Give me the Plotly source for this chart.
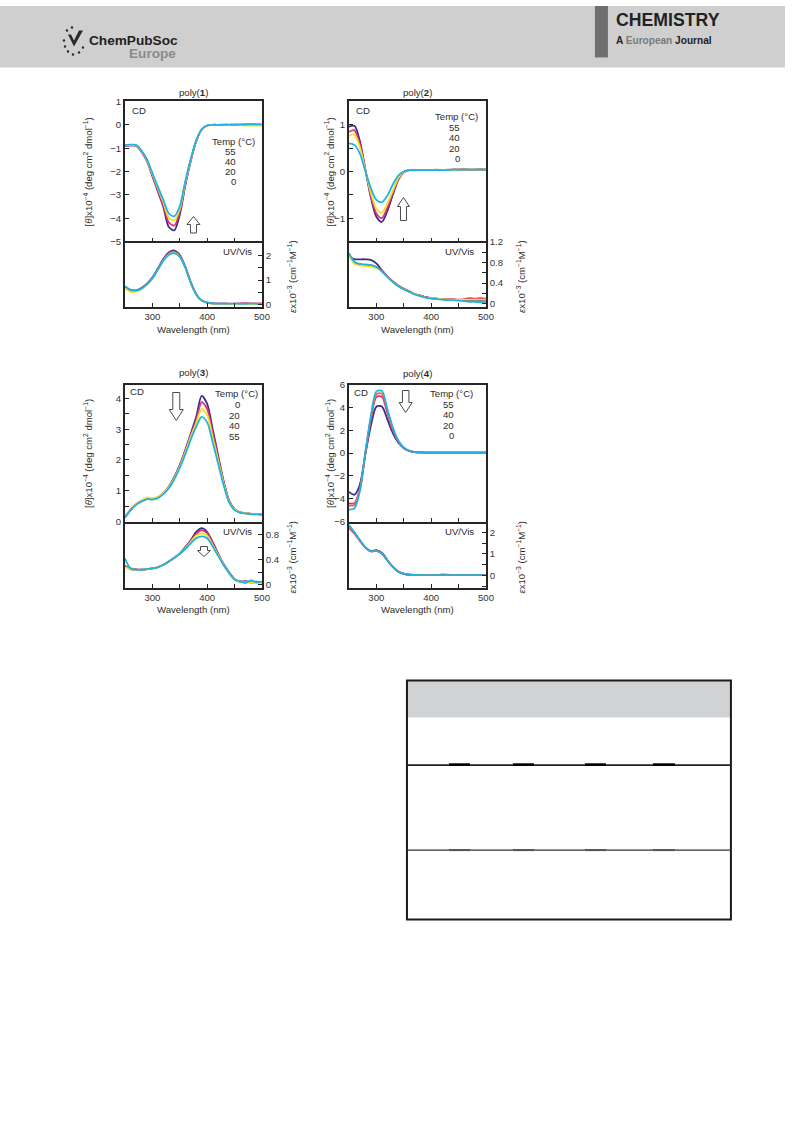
import plotly.graph_objects as go

W, H = 793, 1121
FONT = "Liberation Sans, Arial, sans-serif"

# ---------------- data ----------------
wavelength = [250, 260, 270, 280, 290, 300, 310, 320, 330, 340, 350, 360, 370,
              380, 390, 400, 410, 420, 430, 440, 450, 460, 470, 480, 490, 500]
temperatures = ["0", "20", "40", "55"]

# poly(1)
p1_cd_0C = [-0.90, -0.88, -0.90, -1.15, -1.55, -2.20, -2.85, -3.52, -4.38, -4.52, -3.85, -2.60, -1.55,
            -0.70, -0.20, -0.03, 0.00, 0.00, 0.00, 0.00, 0.01, 0.00, 0.00, 0.01, 0.00, 0.00]
p1_cd_20C = [-0.90, -0.88, -0.89, -1.14, -1.53, -2.17, -2.80, -3.44, -4.18, -4.32, -3.72, -2.55, -1.52,
             -0.70, -0.20, -0.03, 0.00, 0.00, 0.01, 0.00, 0.00, 0.01, 0.02, 0.01, 0.02, 0.01]
p1_cd_40C = [-0.88, -0.87, -0.88, -1.12, -1.50, -2.12, -2.72, -3.32, -3.98, -4.10, -3.60, -2.48, -1.50,
             -0.68, -0.20, -0.03, 0.00, 0.00, 0.00, 0.00, 0.00, -0.01, -0.03, -0.03, -0.03, -0.02]
p1_cd_55C = [-0.86, -0.85, -0.86, -1.10, -1.47, -2.07, -2.65, -3.22, -3.80, -3.92, -3.48, -2.42, -1.47,
             -0.67, -0.20, -0.03, 0.00, 0.00, 0.00, 0.01, 0.00, 0.01, 0.01, 0.02, 0.02, 0.01]
p1_uv_0C = [0.72, 0.60, 0.58, 0.67, 0.85, 1.10, 1.47, 1.86, 2.12, 2.20, 2.02, 1.55, 0.92,
            0.42, 0.16, 0.08, 0.05, 0.04, 0.04, 0.03, 0.03, 0.03, 0.03, 0.03, 0.03, 0.03]
p1_uv_20C = [0.70, 0.56, 0.56, 0.65, 0.83, 1.08, 1.44, 1.83, 2.08, 2.16, 1.98, 1.52, 0.90,
             0.41, 0.16, 0.08, 0.05, 0.04, 0.04, 0.04, 0.04, 0.05, 0.06, 0.05, 0.05, 0.05]
p1_uv_40C = [0.66, 0.52, 0.53, 0.62, 0.80, 1.05, 1.41, 1.79, 2.04, 2.12, 1.95, 1.50, 0.88,
             0.40, 0.15, 0.07, 0.04, 0.03, 0.03, 0.02, 0.02, 0.02, 0.02, 0.02, 0.02, 0.02]
p1_uv_55C = [0.75, 0.60, 0.57, 0.65, 0.82, 1.06, 1.42, 1.79, 2.02, 2.10, 1.94, 1.50, 0.89,
             0.41, 0.16, 0.08, 0.05, 0.04, 0.04, 0.03, 0.04, 0.03, 0.03, 0.04, 0.03, 0.03]

# poly(2)
p2_cd_0C = [0.96, 0.98, 0.65, 0.04, -0.56, -0.97, -1.08, -0.85, -0.50, -0.18, -0.02, 0.03, 0.03,
            0.03, 0.03, 0.03, 0.03, 0.03, 0.03, 0.04, 0.04, 0.04, 0.04, 0.04, 0.04, 0.04]
p2_cd_20C = [0.85, 0.88, 0.58, 0.03, -0.52, -0.90, -1.00, -0.78, -0.46, -0.16, -0.01, 0.03, 0.03,
             0.03, 0.03, 0.03, 0.04, 0.03, 0.04, 0.04, 0.04, 0.05, 0.04, 0.04, 0.05, 0.04]
p2_cd_40C = [0.76, 0.79, 0.52, 0.02, -0.46, -0.80, -0.88, -0.69, -0.41, -0.14, -0.01, 0.03, 0.03,
             0.03, 0.03, 0.03, 0.03, 0.03, 0.04, 0.03, 0.04, 0.04, 0.04, 0.04, 0.04, 0.04]
p2_cd_55C = [0.60, 0.57, 0.38, 0.00, -0.36, -0.61, -0.66, -0.52, -0.28, -0.09, 0.00, 0.03, 0.03,
             0.03, 0.03, 0.03, 0.03, 0.03, 0.03, 0.04, 0.04, 0.04, 0.04, 0.04, 0.04, 0.04]
p2_uv_0C = [0.92, 0.86, 0.86, 0.86, 0.85, 0.78, 0.65, 0.53, 0.43, 0.35, 0.29, 0.24, 0.19,
            0.16, 0.13, 0.11, 0.10, 0.09, 0.08, 0.08, 0.07, 0.07, 0.07, 0.06, 0.06, 0.06]
p2_uv_20C = [0.96, 0.80, 0.76, 0.75, 0.74, 0.71, 0.64, 0.53, 0.43, 0.35, 0.29, 0.24, 0.19,
             0.16, 0.13, 0.11, 0.10, 0.09, 0.09, 0.09, 0.08, 0.09, 0.11, 0.10, 0.11, 0.10]
p2_uv_40C = [0.93, 0.77, 0.74, 0.73, 0.72, 0.69, 0.62, 0.52, 0.42, 0.34, 0.28, 0.23, 0.19,
             0.15, 0.12, 0.11, 0.10, 0.09, 0.08, 0.08, 0.08, 0.08, 0.08, 0.08, 0.08, 0.08]
p2_uv_55C = [0.98, 0.81, 0.77, 0.76, 0.75, 0.71, 0.63, 0.52, 0.42, 0.34, 0.28, 0.23, 0.18,
             0.15, 0.12, 0.10, 0.09, 0.08, 0.07, 0.07, 0.06, 0.05, 0.04, 0.04, 0.03, 0.03]

# poly(3)
p3_cd_0C = [0.14, 0.38, 0.55, 0.66, 0.74, 0.73, 0.78, 0.92, 1.13, 1.45, 1.84, 2.32, 2.85,
            3.40, 4.08, 3.82, 3.00, 2.15, 1.32, 0.68, 0.40, 0.30, 0.27, 0.25, 0.24, 0.23]
p3_cd_20C = [0.14, 0.38, 0.56, 0.67, 0.75, 0.74, 0.79, 0.92, 1.12, 1.43, 1.82, 2.29, 2.80,
             3.30, 3.88, 3.65, 2.88, 2.08, 1.28, 0.67, 0.40, 0.30, 0.27, 0.25, 0.24, 0.23]
p3_cd_40C = [0.13, 0.37, 0.56, 0.68, 0.78, 0.76, 0.80, 0.92, 1.11, 1.41, 1.79, 2.25, 2.75,
             3.20, 3.66, 3.46, 2.74, 1.99, 1.24, 0.65, 0.39, 0.30, 0.27, 0.25, 0.24, 0.23]
p3_cd_55C = [0.12, 0.36, 0.54, 0.65, 0.73, 0.71, 0.76, 0.89, 1.08, 1.37, 1.74, 2.18, 2.66,
             3.08, 3.40, 3.22, 2.58, 1.88, 1.18, 0.62, 0.37, 0.29, 0.26, 0.24, 0.23, 0.22]
p3_uv_0C = [0.30, 0.25, 0.24, 0.24, 0.25, 0.26, 0.28, 0.32, 0.37, 0.43, 0.50, 0.60, 0.71,
            0.84, 0.90, 0.84, 0.68, 0.50, 0.33, 0.20, 0.09, 0.05, 0.06, 0.04, 0.05, 0.04]
p3_uv_20C = [0.30, 0.26, 0.25, 0.24, 0.25, 0.26, 0.28, 0.32, 0.37, 0.43, 0.50, 0.59, 0.70,
             0.81, 0.87, 0.82, 0.66, 0.49, 0.32, 0.19, 0.09, 0.05, 0.05, 0.04, 0.04, 0.04]
p3_uv_40C = [0.28, 0.25, 0.24, 0.24, 0.25, 0.26, 0.28, 0.32, 0.37, 0.43, 0.50, 0.58, 0.68,
             0.78, 0.82, 0.78, 0.63, 0.48, 0.32, 0.19, 0.08, 0.05, 0.04, 0.04, 0.04, 0.03]
p3_uv_55C = [0.42, 0.26, 0.24, 0.24, 0.25, 0.26, 0.28, 0.32, 0.37, 0.43, 0.49, 0.57, 0.66,
             0.74, 0.77, 0.74, 0.61, 0.46, 0.31, 0.19, 0.08, 0.06, 0.03, 0.07, 0.04, 0.05]

# poly(4)
p4_cd_0C = [-3.40, -3.65, -2.75, -0.10, 2.40, 4.05, 4.08, 2.95, 1.75, 0.92, 0.42, 0.18, 0.08,
            0.05, 0.04, 0.04, 0.04, 0.04, 0.04, 0.04, 0.04, 0.04, 0.04, 0.04, 0.04, 0.04]
p4_cd_20C = [-4.40, -4.40, -3.10, 0.00, 2.95, 4.90, 4.93, 3.50, 2.05, 1.02, 0.45, 0.19, 0.08,
             0.05, 0.04, 0.04, 0.04, 0.04, 0.04, 0.04, 0.04, 0.04, 0.04, 0.04, 0.04, 0.04]
p4_cd_40C = [-4.60, -4.55, -3.20, 0.05, 3.10, 5.15, 5.20, 3.70, 2.15, 1.06, 0.47, 0.20, 0.08,
             0.05, 0.04, 0.04, 0.04, 0.04, 0.04, 0.04, 0.04, 0.04, 0.04, 0.04, 0.04, 0.04]
p4_cd_55C = [-4.95, -4.85, -3.30, 0.10, 3.25, 5.40, 5.45, 3.85, 2.25, 1.10, 0.48, 0.20, 0.09,
             0.05, 0.04, 0.04, 0.04, 0.04, 0.04, 0.04, 0.04, 0.04, 0.04, 0.04, 0.04, 0.04]
p4_uv_0C = [2.30, 1.97, 1.62, 1.30, 1.13, 1.17, 1.05, 0.72, 0.41, 0.19, 0.09, 0.04, 0.03,
            0.02, 0.02, 0.02, 0.02, 0.02, 0.02, 0.02, 0.02, 0.02, 0.02, 0.02, 0.02, 0.02]
p4_uv_20C = [2.20, 1.93, 1.60, 1.28, 1.12, 1.14, 1.02, 0.70, 0.40, 0.18, 0.08, 0.04, 0.03,
             0.02, 0.02, 0.02, 0.03, 0.05, 0.04, 0.03, 0.02, 0.02, 0.03, 0.02, 0.02, 0.02]
p4_uv_40C = [2.25, 1.95, 1.61, 1.29, 1.12, 1.14, 1.02, 0.70, 0.40, 0.18, 0.08, 0.04, 0.03,
             0.02, 0.02, 0.02, 0.02, 0.02, 0.02, 0.02, 0.02, 0.02, 0.02, 0.02, 0.02, 0.02]
p4_uv_55C = [2.33, 1.99, 1.63, 1.30, 1.12, 1.14, 1.02, 0.70, 0.40, 0.18, 0.08, 0.04, 0.03,
             0.02, 0.02, 0.02, 0.02, 0.03, 0.02, 0.02, 0.03, 0.02, 0.02, 0.03, 0.02, 0.02]

# tick values / labels
x_tick_vals = [300, 350, 400, 450, 500]
x_tick_text = ["300", "", "400", "", "500"]
p1_cd_ticks = [-5, -4, -3, -2, -1, 0, 1]
p1_cd_text = ["\u22125", "\u22124", "\u22123", "\u22122", "\u22121", "0", "1"]
p2_cd_ticks = [-1.5, -1, -0.5, 0, 0.5, 1, 1.5]
p2_cd_text = ["", "\u22121", "", "0", "", "1", ""]
p3_cd_ticks = [0, 0.5, 1, 1.5, 2, 2.5, 3, 3.5, 4]
p3_cd_text = ["0", "", "1", "", "2", "", "3", "", "4"]
p4_cd_ticks = [-6, -4, -2, 0, 2, 4, 6]
p4_cd_text = ["\u22126", "\u22124", "\u22122", "0", "2", "4", "6"]
p1_uv_ticks = [0, 0.5, 1, 1.5, 2]
p1_uv_text = ["0", "", "1", "", "2"]
p2_uv_ticks = [0, 0.2, 0.4, 0.6, 0.8, 1.0, 1.2]
p2_uv_text = ["0", "", "0.4", "", "0.8", "", "1.2"]
p3_uv_ticks = [0, 0.2, 0.4, 0.6, 0.8]
p3_uv_text = ["0", "", "0.4", "", "0.8"]
p4_uv_ticks = [-0.5, 0, 0.5, 1, 1.5, 2]
p4_uv_text = ["", "0", "", "1", "", "2"]

COL_DARK, COL_MAG, COL_YEL, COL_CYAN, COL_ORANGE = "#3b2d86", "#e0307c", "#f3e21e", "#1fb3e5", "#f06e2c"

# The photographed page is shown at a slight reduction (793/801) and centred
# vertically; map target-pixel positions to page positions accordingly.
S = 793 / 801
OY = 5.55


def xp(px):
    return (px / S) / W


def yp(py):
    return 1 - ((py - OY) / S) / H


def fs(size):
    return round(size / S, 2)


def ax(k):
    return "" if k == 1 else str(k)


panels = [
    dict(title="poly(<b>1</b>)", x0=125, x1=262, top=101, split=241, bottom=306,
         cd=[p1_cd_0C, p1_cd_20C, p1_cd_40C, p1_cd_55C], uv=[p1_uv_0C, p1_uv_20C, p1_uv_40C, p1_uv_55C],
         colors=[COL_DARK, COL_MAG, COL_YEL, COL_CYAN],
         cd_range=[-5, 1], uv_range=[-0.08, 2.57],
         cd_ticks=(p1_cd_ticks, p1_cd_text), uv_ticks=(p1_uv_ticks, p1_uv_text),
         title_y=92, xtitle_y=329, ytitle_x=88, uvtitle_x=292,
         cd_lab=(130, 110), uv_lab=(254, 251),
         temp_center=234, temp_right=238, temp_y=[141, 151, 161, 171, 181],
         temp_order=["55", "40", "20", "0"]),
    dict(title="poly(<b>2</b>)", x0=349, x1=486, top=101, split=241, bottom=306,
         cd=[p2_cd_0C, p2_cd_20C, p2_cd_40C, p2_cd_55C], uv=[p2_uv_0C, p2_uv_20C, p2_uv_40C, p2_uv_55C],
         colors=[COL_DARK, COL_MAG, COL_YEL, COL_CYAN],
         cd_range=[-1.5, 1.5], uv_range=[-0.052, 1.204],
         cd_ticks=(p2_cd_ticks, p2_cd_text), uv_ticks=(p2_uv_ticks, p2_uv_text),
         title_y=92, xtitle_y=329, ytitle_x=330, uvtitle_x=521,
         cd_lab=(354, 110), uv_lab=(476, 251),
         temp_center=457, temp_right=462, temp_y=[116, 127, 137.5, 148, 158.5],
         temp_order=["55", "40", "20", "0"]),
    dict(title="poly(<b>3</b>)", x0=125, x1=262, top=384, split=521, bottom=587,
         cd=[p3_cd_0C, p3_cd_20C, p3_cd_40C, p3_cd_55C], uv=[p3_uv_0C, p3_uv_20C, p3_uv_40C, p3_uv_55C],
         colors=[COL_DARK, COL_MAG, COL_YEL, COL_CYAN],
         cd_range=[0, 4.45], uv_range=[-0.043, 1.006],
         cd_ticks=(p3_cd_ticks, p3_cd_text), uv_ticks=(p3_uv_ticks, p3_uv_text),
         title_y=372, xtitle_y=609, ytitle_x=88, uvtitle_x=292,
         cd_lab=(128, 391), uv_lab=(254, 531),
         temp_center=236.5, temp_right=242, temp_y=[393, 404, 414.5, 425, 435.5],
         temp_order=["0", "20", "40", "55"]),
    dict(title="poly(<b>4</b>)", x0=349, x1=486, top=384, split=521, bottom=587,
         cd=[p4_cd_0C, p4_cd_20C, p4_cd_40C, p4_cd_55C], uv=[p4_uv_0C, p4_uv_20C, p4_uv_40C, p4_uv_55C],
         colors=[COL_DARK, COL_MAG, COL_ORANGE, COL_CYAN],
         cd_range=[-6, 6], uv_range=[-0.55, 2.49],
         cd_ticks=(p4_cd_ticks, p4_cd_text), uv_ticks=(p4_uv_ticks, p4_uv_text),
         title_y=373, xtitle_y=609, ytitle_x=330, uvtitle_x=521,
         cd_lab=(352, 392), uv_lab=(476, 531),
         temp_center=451.5, temp_right=456, temp_y=[393, 404, 414, 424.5, 434.5],
         temp_order=["55", "40", "20", "0"]),
]

fig = go.Figure()
layout = dict(width=W, height=H, margin=dict(l=0, r=0, t=0, b=0),
              paper_bgcolor="white", plot_bgcolor="white", showlegend=False,
              font=dict(family=FONT, size=fs(9), color="#333"))
annotations = []
shapes = []

LINE = "#262626"
LW = 1.8
tickfont = dict(family=FONT, size=fs(9.5), color="#333")


def ann(text, x, y, size=9, xanchor="center", yanchor="middle", color="#2b2b2b", angle=0, family=FONT):
    annotations.append(dict(text=text, x=xp(x), y=yp(y), xref="paper", yref="paper", showarrow=False,
                            xanchor=xanchor, yanchor=yanchor, textangle=angle,
                            font=dict(size=fs(size), color=color, family=family)))


for i, p in enumerate(panels):
    kc, ku = 2 * i + 1, 2 * i + 2
    common_x = dict(domain=[xp(p["x0"]), xp(p["x1"])], range=[250, 500], showgrid=False, zeroline=False,
                    showline=True, linecolor=LINE, linewidth=LW,
                    ticks="inside", ticklen=4, tickwidth=1.2, tickcolor=LINE,
                    tickvals=x_tick_vals, ticktext=x_tick_text, tickfont=tickfont)
    layout["xaxis" + ax(kc)] = dict(common_x, anchor="y" + ax(kc), showticklabels=False, mirror=True)
    layout["xaxis" + ax(ku)] = dict(common_x, anchor="y" + ax(ku), showticklabels=True, mirror=False)
    layout["yaxis" + ax(kc)] = dict(domain=[yp(p["split"]), yp(p["top"])], range=p["cd_range"],
                                    anchor="x" + ax(kc), side="left", showgrid=False, zeroline=False,
                                    showline=True, mirror=True, linecolor=LINE, linewidth=LW,
                                    ticks="inside", ticklen=4, tickwidth=1.2, tickcolor=LINE,
                                    tickvals=p["cd_ticks"][0], ticktext=p["cd_ticks"][1], tickfont=tickfont)
    layout["yaxis" + ax(ku)] = dict(domain=[yp(p["bottom"]), yp(p["split"])], range=p["uv_range"],
                                    anchor="x" + ax(ku), side="right", showgrid=False, zeroline=False,
                                    showline=True, mirror=True, linecolor=LINE, linewidth=LW,
                                    ticks="inside", ticklen=4, tickwidth=1.2, tickcolor=LINE,
                                    tickvals=p["uv_ticks"][0], ticktext=p["uv_ticks"][1], tickfont=tickfont)
    for vals, col in zip(p["cd"], p["colors"]):
        fig.add_trace(go.Scatter(x=wavelength, y=vals, mode="lines",
                                 line=dict(color=col, width=1.8, shape="spline", smoothing=0.8),
                                 xaxis="x" + ax(kc), yaxis="y" + ax(kc), hoverinfo="skip"))
    for vals, col in zip(p["uv"], p["colors"]):
        fig.add_trace(go.Scatter(x=wavelength, y=vals, mode="lines",
                                 line=dict(color=col, width=1.8, shape="spline", smoothing=0.8),
                                 xaxis="x" + ax(ku), yaxis="y" + ax(ku), hoverinfo="skip"))

    cx = (p["x0"] + p["x1"]) / 2
    ann(p["title"], cx, p["title_y"], size=9.5)
    ann("Wavelength (nm)", cx, p["xtitle_y"], size=9.5)
    ann("[<i>θ</i>]x10<sup>\u22124</sup> (deg cm<sup>2</sup> dmol<sup>\u22121</sup>)", p["ytitle_x"],
        (p["top"] + p["split"]) / 2, size=9.5, angle=-90)
    ann("<i>ε</i>x10<sup>\u22123</sup> (cm<sup>\u22121</sup>M<sup>\u22121</sup>)", p["uvtitle_x"],
        (p["split"] + p["bottom"]) / 2 + 2, size=9.5, angle=-90)
    ann("CD", p["cd_lab"][0], p["cd_lab"][1], size=9.5, xanchor="left")
    ann("UV/Vis", p["uv_lab"][0], p["uv_lab"][1], size=9.5, xanchor="right")
    ann("Temp (°C)", p["temp_center"], p["temp_y"][0], size=9.5)
    for t, yy in zip(p["temp_order"], p["temp_y"][1:]):
        ann(t, p["temp_right"], yy, size=9.5, xanchor="right")


# hollow block arrows (pixel geometry)
def arrow(cx, y_tail, y_tip, head_w, shaft_w, head_len):
    d = 1 if y_tip > y_tail else -1
    yb = y_tip - d * head_len
    pts = [(cx - shaft_w / 2, y_tail), (cx + shaft_w / 2, y_tail), (cx + shaft_w / 2, yb),
           (cx + head_w / 2, yb), (cx, y_tip), (cx - head_w / 2, yb), (cx - shaft_w / 2, yb)]
    path = "M " + " L ".join(f"{xp(x):.5f},{yp(y):.5f}" for x, y in pts) + " Z"
    shapes.append(dict(type="path", path=path, xref="paper", yref="paper",
                       line=dict(color="#4a4a4a", width=1), fillcolor="white"))


arrow(193.5, 232.5, 216, 13, 6, 8)
arrow(403.5, 220, 197, 12, 6, 9)
arrow(176.3, 392, 420, 14, 7, 11)
arrow(204, 546, 556, 13, 7, 6)
arrow(405.7, 390, 412, 13, 6.5, 10)

# ---------------- page header ----------------
shapes.append(dict(type="rect", xref="paper", yref="paper", x0=0, x1=1, y0=yp(67), y1=1,
                   fillcolor="#cfcfcf", line=dict(width=0), layer="below"))
shapes.append(dict(type="rect", xref="paper", yref="paper", x0=xp(595), x1=xp(608), y0=yp(57), y1=1,
                   fillcolor="#6f6f6f", line=dict(width=0)))
ann("<b>CHEMISTRY</b>", 614, 20, size=17.5, xanchor="left", color="#222")
ann("<b>A </b><span style='color:#7a7a7a'><b>European</b></span><b> Journal</b>", 614, 40,
    size=10, xanchor="left", color="#222")
ann("<b>ChemPubSoc</b>", 87, 40, size=13.5, xanchor="left", color="#222")
ann("<b>Europe</b>", 127, 53, size=13.5, xanchor="left", color="#8a8a8a")
# small logo mark
shapes.append(dict(type="path", xref="paper", yref="paper",
                   path=f"M {xp(68)},{yp(34)} L {xp(74)},{yp(46)} L {xp(83)},{yp(30)} L {xp(79)},{yp(30)} "
                        f"L {xp(74)},{yp(40)} L {xp(71)},{yp(34)} Z",
                   fillcolor="#2a2a2a", line=dict(width=0)))
for (dx, dy) in [(64, 40), (65, 46), (68, 51), (73, 54), (79, 52), (83, 47), (67, 30), (72, 27)]:
    shapes.append(dict(type="circle", xref="paper", yref="paper", x0=xp(dx - 1.2), x1=xp(dx + 1.2),
                       y0=yp(dy + 1.2), y1=yp(dy - 1.2), fillcolor="#2a2a2a", line=dict(width=0)))

# ---------------- table frame ----------------
shapes.append(dict(type="rect", xref="paper", yref="paper", x0=xp(407), x1=xp(731), y0=yp(717), y1=yp(680),
                   fillcolor="#d1d2d4", line=dict(width=0), layer="below"))
shapes.append(dict(type="rect", xref="paper", yref="paper", x0=xp(407), x1=xp(731), y0=yp(919), y1=yp(680),
                   fillcolor="rgba(0,0,0,0)", line=dict(color="#1a1a1a", width=2)))
shapes.append(dict(type="line", xref="paper", yref="paper", x0=xp(407), x1=xp(731), y0=yp(764.5), y1=yp(764.5),
                   line=dict(color="#222", width=1.6)))
shapes.append(dict(type="line", xref="paper", yref="paper", x0=xp(407), x1=xp(731), y0=yp(849.5), y1=yp(849.5),
                   line=dict(color="#333", width=1.2)))
table_rule_marks = [(449, 470), (513, 534), (585, 606), (653, 675)]
for a, b in table_rule_marks:
    shapes.append(dict(type="line", xref="paper", yref="paper", x0=xp(a), x1=xp(b), y0=yp(764), y1=yp(764),
                       line=dict(color="#000", width=2.6)))
    shapes.append(dict(type="line", xref="paper", yref="paper", x0=xp(a), x1=xp(b), y0=yp(849.5), y1=yp(849.5),
                       line=dict(color="#555", width=2)))

layout["annotations"] = annotations
layout["shapes"] = shapes
fig.update_layout(**layout)

page_fix = ("var de=document.documentElement, bd=document.body;"
            "[de, bd].forEach(function(e){e.style.margin='0';e.style.padding='0';e.style.overflow='hidden';"
            "e.style.width='793px';e.style.height='1121px';});"
            "var gd=document.getElementById('{plot_id}');gd.style.position='absolute';"
            "gd.style.left='0px';gd.style.top='0px';")
fig.write_html("out.html", post_script=page_fix, config={"displayModeBar": False})
